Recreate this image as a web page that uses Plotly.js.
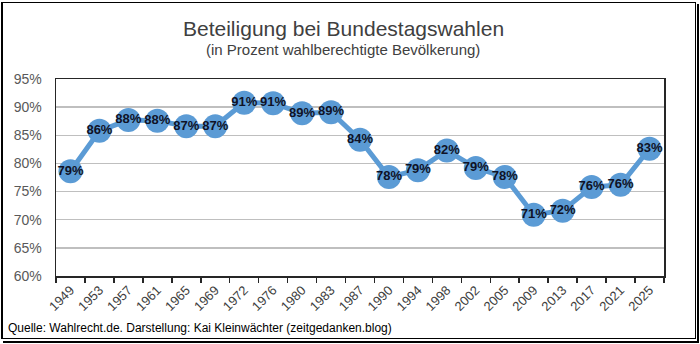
<!DOCTYPE html>
<html>
<head>
<meta charset="utf-8">
<script src="https://cdn.plot.ly/plotly-3.0.1.min.js"></script>
<style>
  html, body { margin: 0; padding: 0; background: #fff; }
  #wrap { position: relative; width: 700px; height: 344px; }
  #plot { position: absolute; left: 0; top: 0; width: 700px; height: 344px; }
  #frame { position: absolute; left: 1px; top: 2px; width: 692px; height: 335px;
           border-top: 1px solid #000; border-right: 1px solid #000; border-bottom: 1px solid #000;
           border-left: 2px solid #000; pointer-events: none; }
  #shadowR { position: absolute; left: 697px; top: 4px; width: 2px; height: 338px; background: #000; pointer-events: none; }
  #shadowB { position: absolute; left: 3px; top: 341px; width: 696px; height: 2px; background: #000; pointer-events: none; }
</style>
</head>
<body>
<div id="wrap">
  <div id="plot"></div>
  <div id="frame"></div>
  <div id="shadowR"></div>
  <div id="shadowB"></div>
</div>
<script>
const years = ["1949","1953","1957","1961","1965","1969","1972","1976","1980","1983","1987",
               "1990","1994","1998","2002","2005","2009","2013","2017","2021","2025"];
const turnout = [78.6, 85.8, 87.7, 87.6, 86.6, 86.6, 90.8, 90.7, 88.9, 89.1, 84.2,
                 77.6, 78.8, 82.3, 79.2, 77.6, 70.9, 71.6, 75.8, 76.2, 82.6];
const yTicks = [60, 65, 70, 75, 80, 85, 90, 95];

const titleText = "Beteiligung bei Bundestagswahlen";
const subtitleText = "(in Prozent wahlberechtigte Bevölkerung)";
const sourceText = "Quelle: Wahlrecht.de. Darstellung: Kai Kleinwächter (zeitgedanken.blog)";

const font = "Liberation Sans, Arial, sans-serif";

const trace = {
  x: years,
  y: turnout,
  type: "scatter",
  mode: "lines+markers+text",
  line: { color: "#5b9bd5", width: 5 },
  marker: { color: "#5b9bd5", size: 24 },
  text: turnout.map(v => Math.round(v) + "%"),
  textposition: "middle center",
  textfont: { family: font, size: 13, color: "#0f1226", weight: "bold" },
  cliponaxis: false,
  hoverinfo: "skip"
};

const layout = {
  width: 700, height: 344,
  margin: { l: 56, r: 36, t: 79, b: 68 },
  paper_bgcolor: "#fff",
  plot_bgcolor: "#fff",
  showlegend: false,
  font: { family: font, color: "#404040" },
  xaxis: {
    type: "category",
    tickson: "boundaries",
    ticks: "outside",
    ticklen: 5,
    tickwidth: 1.5,
    tickcolor: "#262626",
    tickangle: -45,
    tickfont: { family: font, size: 13, color: "#404040" },
    showline: true, mirror: true, linecolor: "#262626", linewidth: 1.5,
    showgrid: false,
    range: [-0.5, years.length - 0.5],
    fixedrange: true
  },
  yaxis: {
    range: [60, 95],
    tickvals: yTicks,
    ticktext: yTicks.map(v => v + "%"),
    ticks: "",
    ticklabelstandoff: 10,
    tickfont: { family: font, size: 14, color: "#595959" },
    showgrid: true, gridcolor: "#bfbfbf", gridwidth: 1.5,
    showline: true, mirror: true, linecolor: "#262626", linewidth: 1.5,
    zeroline: false,
    fixedrange: true
  },
  annotations: [
    { text: titleText, xref: "paper", yref: "paper", x: (343 - 56) / 608, y: 1 + (79 - 28) / 197,
      xanchor: "center", yanchor: "middle", showarrow: false,
      font: { family: font, size: 21, color: "#404040" } },
    { text: subtitleText, xref: "paper", yref: "paper", x: (343 - 56) / 608, y: 1 + (79 - 49) / 197,
      xanchor: "center", yanchor: "middle", showarrow: false,
      font: { family: font, size: 15, color: "#404040" } },
    { text: sourceText, xref: "paper", yref: "paper", x: (6 - 56) / 608, y: -(328 - 276) / 197,
      xanchor: "left", yanchor: "middle", showarrow: false,
      font: { family: font, size: 12, color: "#000" } }
  ]
};

Plotly.newPlot("plot", [trace], layout, { displayModeBar: false, staticPlot: true });
</script>
</body>
</html>
